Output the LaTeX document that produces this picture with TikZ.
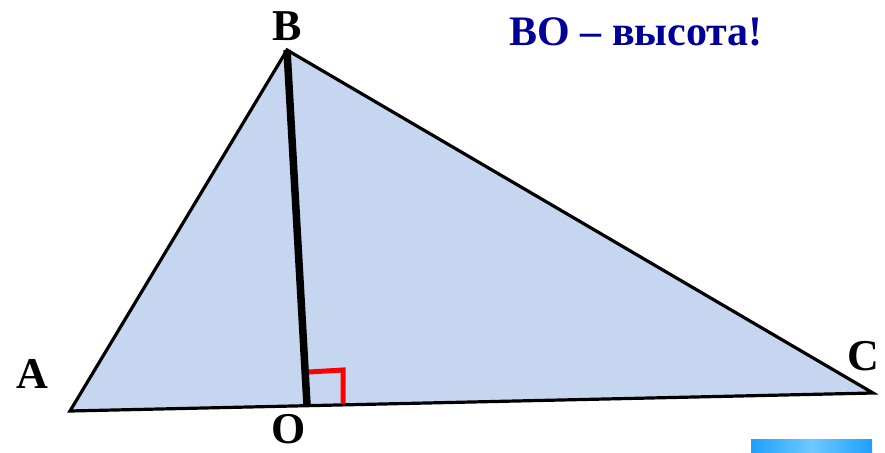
\documentclass[tikz,border=0pt]{standalone}
\usepackage{fontspec}
\setmainfont{Liberation Serif}
\usepackage{tikz}
\definecolor{trifill}{RGB}{198,214,240}
\definecolor{titleblue}{RGB}{0,0,150}
\definecolor{barblue}{RGB}{30,160,255}
\definecolor{barlight}{RGB}{110,200,255}
\tikzset{
  vlabel/.style={font=\fontsize{44}{44}\selectfont\bfseries, inner sep=0pt},
}

\begin{document}
\begin{tikzpicture}[x=1pt,y=-1pt]
  \useasboundingbox (0,0) rectangle (885,452);
  % points of the triangle
  \coordinate (A) at (70,411);
  \coordinate (B) at (287,50);
  \coordinate (C) at (873,393);
  \coordinate (O) at (307,405);
  % triangle
  \fill[trifill] (A) -- (B) -- (C) -- cycle;
  \draw[line width=3.2pt, line join=miter] (A) -- (B) -- (C) -- cycle;
  % height BO
  \draw[line width=7.5pt] (B) -- (O);
  % right angle mark
  \coordinate (r1) at (309,372);
  \coordinate (r2) at (343,370);
  \coordinate (r3) at (343,404);
  \draw[red, line width=5pt] (r1) -- (r2) -- (r3);
  % labels
  \node[vlabel] (lA) at (32,374) {A};
  \node[vlabel] (lB) at (287,26) {B};
  \node[vlabel] (lC) at (863,356) {C};
  \node[vlabel] (lO) at (289,429) {O};
  \node[font=\fontsize{42}{42}\selectfont\bfseries, text=titleblue, inner sep=0pt]
    (title) at (636,32) {ВО – высота!};
  % blue bar
  \shade[left color=barblue, right color=barblue, middle color=barlight]
    (751,439) rectangle (872,452);
\end{tikzpicture}
\end{document}
